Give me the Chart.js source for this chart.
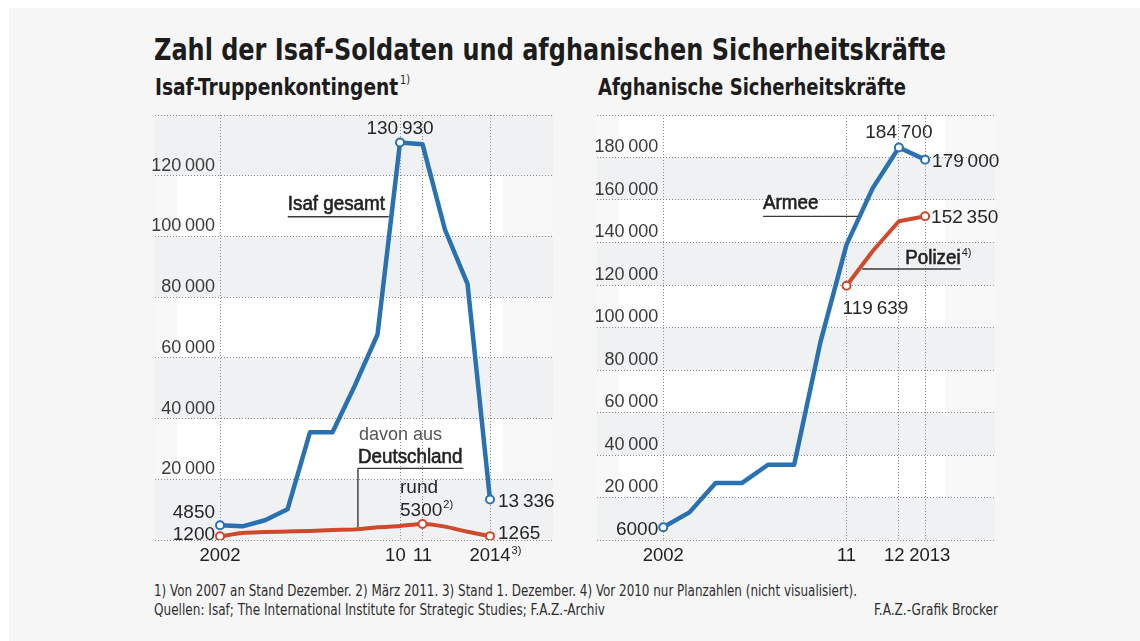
<!DOCTYPE html>
<html lang="de">
<head>
<meta charset="utf-8">
<title>Zahl der Isaf-Soldaten und afghanischen Sicherheitskräfte</title>
<script src="https://cdn.jsdelivr.net/npm/chart.js@4.4.1/dist/chart.umd.min.js"></script>
<style>
html,body{margin:0;padding:0;width:1140px;height:641px;overflow:hidden;background:#ffffff;}
#card{position:absolute;left:9px;top:8px;width:1131px;height:633px;background:#f6f6f6;}
.t{position:absolute;left:0;top:0;white-space:nowrap;transform-origin:0 0;color:#1c1c1c;line-height:1.2;
   font-family:'Liberation Sans Narrow','DejaVu Sans Condensed','Liberation Sans',Arial,sans-serif;}
.bl{display:inline-block;width:0;height:0;vertical-align:baseline;}
.t sup{font-size:52%;vertical-align:baseline;position:relative;top:-0.95em;margin-left:2px;font-weight:normal;}
canvas{position:absolute;}
</style>
</head>
<body>
<div id="card"></div>
<div class="t" id="title" style="font-weight:bold;font-size:31px">Zahl der Isaf-Soldaten und afghanischen Sicherheitskräfte<span class="bl"></span></div>
<div class="t" id="sub1" style="font-weight:bold;font-size:23px">Isaf-Truppenkontingent<sup>1)</sup><span class="bl"></span></div>
<div class="t" id="sub2" style="font-weight:bold;font-size:23px">Afghanische Sicherheitskräfte<span class="bl"></span></div>
<canvas id="c1" width="440" height="480" style="left:140px;top:100px"></canvas>
<canvas id="c2" width="440" height="480" style="left:582px;top:100px"></canvas>
<div class="t" id="f1" style="font-size:15px;color:#2e2e2e">1) Von 2007 an Stand Dezember. 2) März 2011. 3) Stand 1. Dezember. 4) Vor 2010 nur Planzahlen (nicht visualisiert).<span class="bl"></span></div>
<div class="t" id="f2" style="font-size:15px;color:#2e2e2e">Quellen: Isaf; The International Institute for Strategic Studies; F.A.Z.-Archiv<span class="bl"></span></div>
<div class="t" id="f3" style="font-size:15px;color:#2e2e2e">F.A.Z.-Grafik Brocker<span class="bl"></span></div>
<script>
// ---------------- DATA ----------------
// Left chart: Isaf-Truppenkontingent
const isafYears   = [2002, 2003, 2004, 2005, 2006, 2007, 2008, 2009, 2010, 2011, 2012, 2013, 2014];
const isafGesamt  = [4850, 4500, 6500, 10100, 35500, 35500, 51000, 67700, 130930, 130400, 102200, 84400, 13336];
const deutschland = [1200, 2300, 2600, 2800, 3000, 3300, 3500, 4200, 4600, 5300, 4400, 2700, 1265];
const isafMarked  = [2002, 2010, 2014];
const deutschMarked = [2002, 2011, 2014];
const leftXTicks  = [2002, 2010, 2011, 2014];
const leftXLabels = ['2002', '10', '11', '2014'];
const leftYMax = 140000;

// Right chart: Afghanische Sicherheitskräfte (slots along the time axis)
const rightSlots  = ['2002', '', '', '', '', '', '', '11', '', '12', '2013'];
const armee       = [6000, 13000, 26800, 26800, 35400, 35400, 93000, 139000, 165600, 184700, 179000];
const polizei     = [null, null, null, null, null, null, null, 119639, 136000, 150000, 152350];
const armeeMarked   = [0, 9, 10];
const polizeiMarked = [7, 10];
const rightYMax = 200000;
const yStep = 20000;

// ---------------- STYLE ----------------
const BLUE = '#2a71b2', RED = '#cf4a2c';
const GRID = '#8a8a8a';
const BAND_GRAY = '#eff1f3', BAND_LIGHT = '#f8f8f8', BAND_WHITE = '#ffffff';
const SANS = "'Liberation Sans', Arial, Helvetica, sans-serif";
const FONT_Y = {family: SANS, size: 18};
const FONT_X = {family: SANS, size: 18.5};

function fmt(v) {
  const s = String(Math.round(v));
  if (s.length <= 4) return s;
  return s.replace(/\B(?=(\d{3})+(?!\d))/g, '\u2009');
}

function txt(ctx, s, x, y, o) {
  o = o || {};
  const size = o.size || 19, sx = o.sx || 1;
  ctx.save();
  ctx.font = (o.weight || 'normal') + ' ' + size + 'px ' + SANS;
  const w = ctx.measureText(s).width * sx;
  let x0 = x;
  if (o.align === 'right') x0 = x - w; else if (o.align === 'center') x0 = x - w / 2;
  ctx.translate(x0, y); ctx.scale(sx, 1);
  ctx.textAlign = 'left'; ctx.textBaseline = 'alphabetic';
  ctx.fillStyle = o.color || '#262626';
  ctx.fillText(s, 0, 0);
  if (o.semi) { ctx.strokeStyle = ctx.fillStyle; ctx.lineWidth = 0.6; ctx.strokeText(s, 0, 0); }
  ctx.restore();
  return {x0: x0, x1: x0 + w};
}
function txtSup(ctx, s, sup, x, y, o) {
  o = o || {};
  const size = o.size || 19;
  const r = txt(ctx, s, x, y, o);
  const r2 = txt(ctx, sup, r.x1 + 1, y - size * 0.42, {size: Math.round(size * 0.56), color: o.color});
  return {x0: r.x0, x1: r.x1, x2: r2.x1};
}
function seg(ctx, x1, y1, x2, y2) {
  ctx.save();
  ctx.strokeStyle = '#3a3a3a'; ctx.lineWidth = 1.4;
  ctx.beginPath(); ctx.moveTo(x1, y1); ctx.lineTo(x2, y2); ctx.stroke();
  ctx.restore();
}
function measure(font, s) {
  const c = document.createElement('canvas').getContext('2d');
  c.font = font.size + 'px ' + font.family;
  return c.measureText(s).width;
}

const bandsPlugin = {
  id: 'bands',
  beforeDraw(chart) {
    const {ctx, chartArea: a} = chart, y = chart.scales.y;
    ctx.save();
    let k = 0;
    for (let v = y.min; v < y.max; v += yStep, k++) {
      const y1 = y.getPixelForValue(v), y2 = y.getPixelForValue(v + yStep);
      if (k % 2 === 0) {
        ctx.fillStyle = BAND_GRAY; ctx.fillRect(a.left, y2, a.right - a.left, y1 - y2);
      } else {
        ctx.fillStyle = BAND_LIGHT; ctx.fillRect(a.left, y2, a.right - a.left, y1 - y2);
        ctx.fillStyle = BAND_WHITE; ctx.fillRect(a.left + 22, y2, a.right - a.left - 72, y1 - y2);
      }
    }
    ctx.restore();
  }
};

function P(chart, d, i) { return chart.getDatasetMeta(d).data[i].getProps(['x', 'y'], true); }

const leftNotes = {
  id: 'leftNotes',
  afterDatasetsDraw(chart) {
    const ctx = chart.ctx, xs = chart.scales.x, ys = chart.scales.y;
    const X = v => xs.getPixelForValue(v), Y = v => ys.getPixelForValue(v);
    const last = isafYears.length - 1;
    const edge = X(leftXTicks[0]) - 5;
    let p = P(chart, 0, 0);
    txt(ctx, fmt(isafGesamt[0]), edge, p.y - 7, {align: 'right'});
    p = P(chart, 1, 0);
    txt(ctx, fmt(deutschland[0]), edge, p.y + 4, {align: 'right'});
    const ip = isafGesamt.indexOf(Math.max(...isafGesamt));
    p = P(chart, 0, ip);
    txt(ctx, fmt(isafGesamt[ip]), p.x, p.y - 9, {align: 'center'});
    p = P(chart, 0, last);
    txt(ctx, fmt(isafGesamt[last]), p.x + 8, p.y + 7);
    p = P(chart, 1, last);
    txt(ctx, fmt(deutschland[last]), p.x + 8, p.y + 3);
    const ir = deutschland.indexOf(Math.max(...deutschland));
    p = P(chart, 1, ir);
    const rx = X(2010);
    txt(ctx, 'rund', rx, p.y - 31);
    txtSup(ctx, fmt(deutschland[ir]), '2)', rx, p.y - 8);
    // Isaf gesamt leader
    const ax = X(2009.5), ay = Y(106500);
    txt(ctx, 'Isaf gesamt', ax - 101, ay - 7, {size: 20, semi: true, sx: 0.94, color: '#222'});
    seg(ctx, ax - 101, ay, ax, ay);
    // davon aus Deutschland
    const dx = X(2008.13), uy = Y(23600);
    txt(ctx, 'davon aus', dx + 1, Y(32800), {size: 18, color: '#555'});
    const r2 = txt(ctx, 'Deutschland', dx, Y(25250), {size: 20, semi: true, sx: 0.94, color: '#222'});
    seg(ctx, dx, uy, r2.x1 + 1, uy);
    seg(ctx, dx, uy, dx, Y(4300));
    // footnote marker on 2014 tick
    const w = measure(FONT_X, leftXLabels[3]);
    txt(ctx, '3)', X(2014) + w / 2 + 1, chart.chartArea.bottom + 14, {size: 11, color: '#222'});
  }
};

const rightNotes = {
  id: 'rightNotes',
  afterDatasetsDraw(chart) {
    const ctx = chart.ctx, xs = chart.scales.x, ys = chart.scales.y;
    const X = v => xs.getPixelForValue(v), Y = v => ys.getPixelForValue(v);
    const last = armee.length - 1;
    let p = P(chart, 0, 0);
    txt(ctx, fmt(armee[0]), X(0) - 5, p.y + 8, {align: 'right'});
    const ipk = armee.indexOf(Math.max(...armee));
    p = P(chart, 0, ipk);
    txt(ctx, fmt(armee[ipk]), p.x, p.y - 10, {align: 'center'});
    p = P(chart, 0, last);
    txt(ctx, fmt(armee[last]), p.x + 7, p.y + 7);
    p = P(chart, 1, last);
    txt(ctx, fmt(polizei[last]), p.x + 6, p.y + 7);
    const i0 = polizei.findIndex(v => v != null);
    p = P(chart, 1, i0);
    txt(ctx, fmt(polizei[i0]), p.x - 4, p.y + 28);
    // Armee leader
    const ax = X(7.44), ay = Y(152300);
    txt(ctx, 'Armee', ax - 95, ay - 7, {size: 20, semi: true, sx: 0.94, color: '#222'});
    seg(ctx, ax - 95, ay, ax, ay);
    // Polizei leader
    const bx = X(7.6), by = Y(127500);
    const r = txtSup(ctx, 'Polizei', '4)', bx + 43, by - 5, {size: 20, semi: true, sx: 0.94, color: '#222'});
    seg(ctx, bx, by, r.x1, by);
  }
};

function xTickCb(values, labels, padPrev) {
  return (v, i, ticks) => {
    let s = labels[values.indexOf(v)] || '';
    if (ticks[i + 1] && ticks[i + 1].value - v <= 1) s = s + '\u2002';
    if (padPrev && ticks[i - 1] && v - ticks[i - 1].value <= 1) s = '\u2002' + s;
    return s;
  };
}

function makeChart(canvas, o) {
  const areaLeft = 15, areaW = 440 - 15 - 27;
  const firstPx = areaLeft + (o.xTicks[0] - o.xMin) / (o.xMax - o.xMin) * areaW;
  const yLabels = [];
  for (let v = yStep; v < o.yMax; v += yStep) yLabels.push(fmt(v));
  const widest = Math.max(...yLabels.map(s => measure(FONT_Y, s)));
  const yPad = (firstPx - 5 - areaLeft) - widest;
  return new Chart(canvas, {
    type: 'line',
    data: {datasets: o.datasets},
    options: {
      responsive: false, animation: false, devicePixelRatio: 1, events: [],
      layout: {padding: {left: 15, right: 27, top: 15, bottom: 0}},
      plugins: {legend: {display: false}, tooltip: {enabled: false}},
      elements: {line: {borderJoinStyle: 'round', borderCapStyle: 'round'}},
      scales: {
        x: {
          type: 'linear', min: o.xMin, max: o.xMax,
          afterBuildTicks: s => { s.ticks = o.xTicks.map(v => ({value: v})); },
          afterFit: s => { s.height = 40; },
          grid: {color: GRID, lineWidth: 1, drawTicks: false},
          border: {display: false, dash: [1, 2]},
          ticks: {autoSkip: false, maxRotation: 0, padding: 5, color: '#222', font: FONT_X,
                  callback: xTickCb(o.xTicks, o.xLabels, o.padPrev)}
        },
        y: {
          min: 0, max: o.yMax,
          afterFit: s => { s.width = 0; },
          grid: {color: GRID, lineWidth: 1, drawTicks: false},
          border: {display: false, dash: [1, 2]},
          ticks: {stepSize: yStep, mirror: true, crossAlign: 'far', padding: yPad, labelOffset: -10,
                  color: '#3a3a3a', font: FONT_Y,
                  callback: v => (v === 0 || v === o.yMax) ? '' : fmt(v)}
        }
      }
    },
    plugins: [bandsPlugin, o.notes]
  });
}

const leftChart = makeChart(document.getElementById('c1'), {
  xMin: 1999.11, xMax: 2016.8, xTicks: leftXTicks, xLabels: leftXLabels, padPrev: false, yMax: leftYMax,
  notes: leftNotes,
  datasets: [
    {label: 'Isaf gesamt', data: isafYears.map((x, i) => ({x: x, y: isafGesamt[i]})),
     borderColor: BLUE, borderWidth: 4.5, tension: 0,
     pointRadius: c => isafMarked.includes(isafYears[c.dataIndex]) ? 4 : 0,
     pointBackgroundColor: '#fff', pointBorderColor: BLUE, pointBorderWidth: 2},
    {label: 'davon aus Deutschland', data: isafYears.map((x, i) => ({x: x, y: deutschland[i]})),
     borderColor: RED, borderWidth: 4, cubicInterpolationMode: 'monotone',
     pointRadius: c => deutschMarked.includes(isafYears[c.dataIndex]) ? 4 : 0,
     pointBackgroundColor: '#fff', pointBorderColor: RED, pointBorderWidth: 2}
  ]
});

const rightTicks = rightSlots.map((s, i) => s ? i : -1).filter(i => i >= 0);
const rightLabels = rightTicks.map(i => rightSlots[i]);
const rightChart = makeChart(document.getElementById('c2'), {
  xMin: -2.53, xMax: 12.67, xTicks: rightTicks, xLabels: rightLabels, padPrev: true, yMax: rightYMax,
  notes: rightNotes,
  datasets: [
    {label: 'Armee', data: armee.map((v, i) => ({x: i, y: v})),
     borderColor: BLUE, borderWidth: 4.5, tension: 0,
     pointRadius: c => armeeMarked.includes(c.dataIndex) ? 4 : 0,
     pointBackgroundColor: '#fff', pointBorderColor: BLUE, pointBorderWidth: 2},
    {label: 'Polizei', data: polizei.map((v, i) => ({x: i, y: v})),
     borderColor: RED, borderWidth: 4, tension: 0,
     pointRadius: c => polizeiMarked.includes(c.dataIndex) ? 4 : 0,
     pointBackgroundColor: '#fff', pointBorderColor: RED, pointBorderWidth: 2}
  ]
});

// ---------------- HTML TEXT PLACEMENT ----------------
function place(id, x, baseline, targetW, align) {
  const el = document.getElementById(id);
  const m = el.querySelector('.bl');
  el.style.top = (baseline - m.offsetTop) + 'px';
  const w = el.getBoundingClientRect().width;
  el.style.left = (align === 'right' ? x - targetW : x) + 'px';
  el.style.transform = 'scaleX(' + (targetW / w) + ')';
}
place('title', 154, 59.5, 792);
place('sub1', 155, 95, 255);
place('sub2', 598, 95, 308);
place('f1', 154, 596, 703);
place('f2', 154, 615, 451);
place('f3', 998, 615, 124, 'right');
</script>
</body>
</html>
